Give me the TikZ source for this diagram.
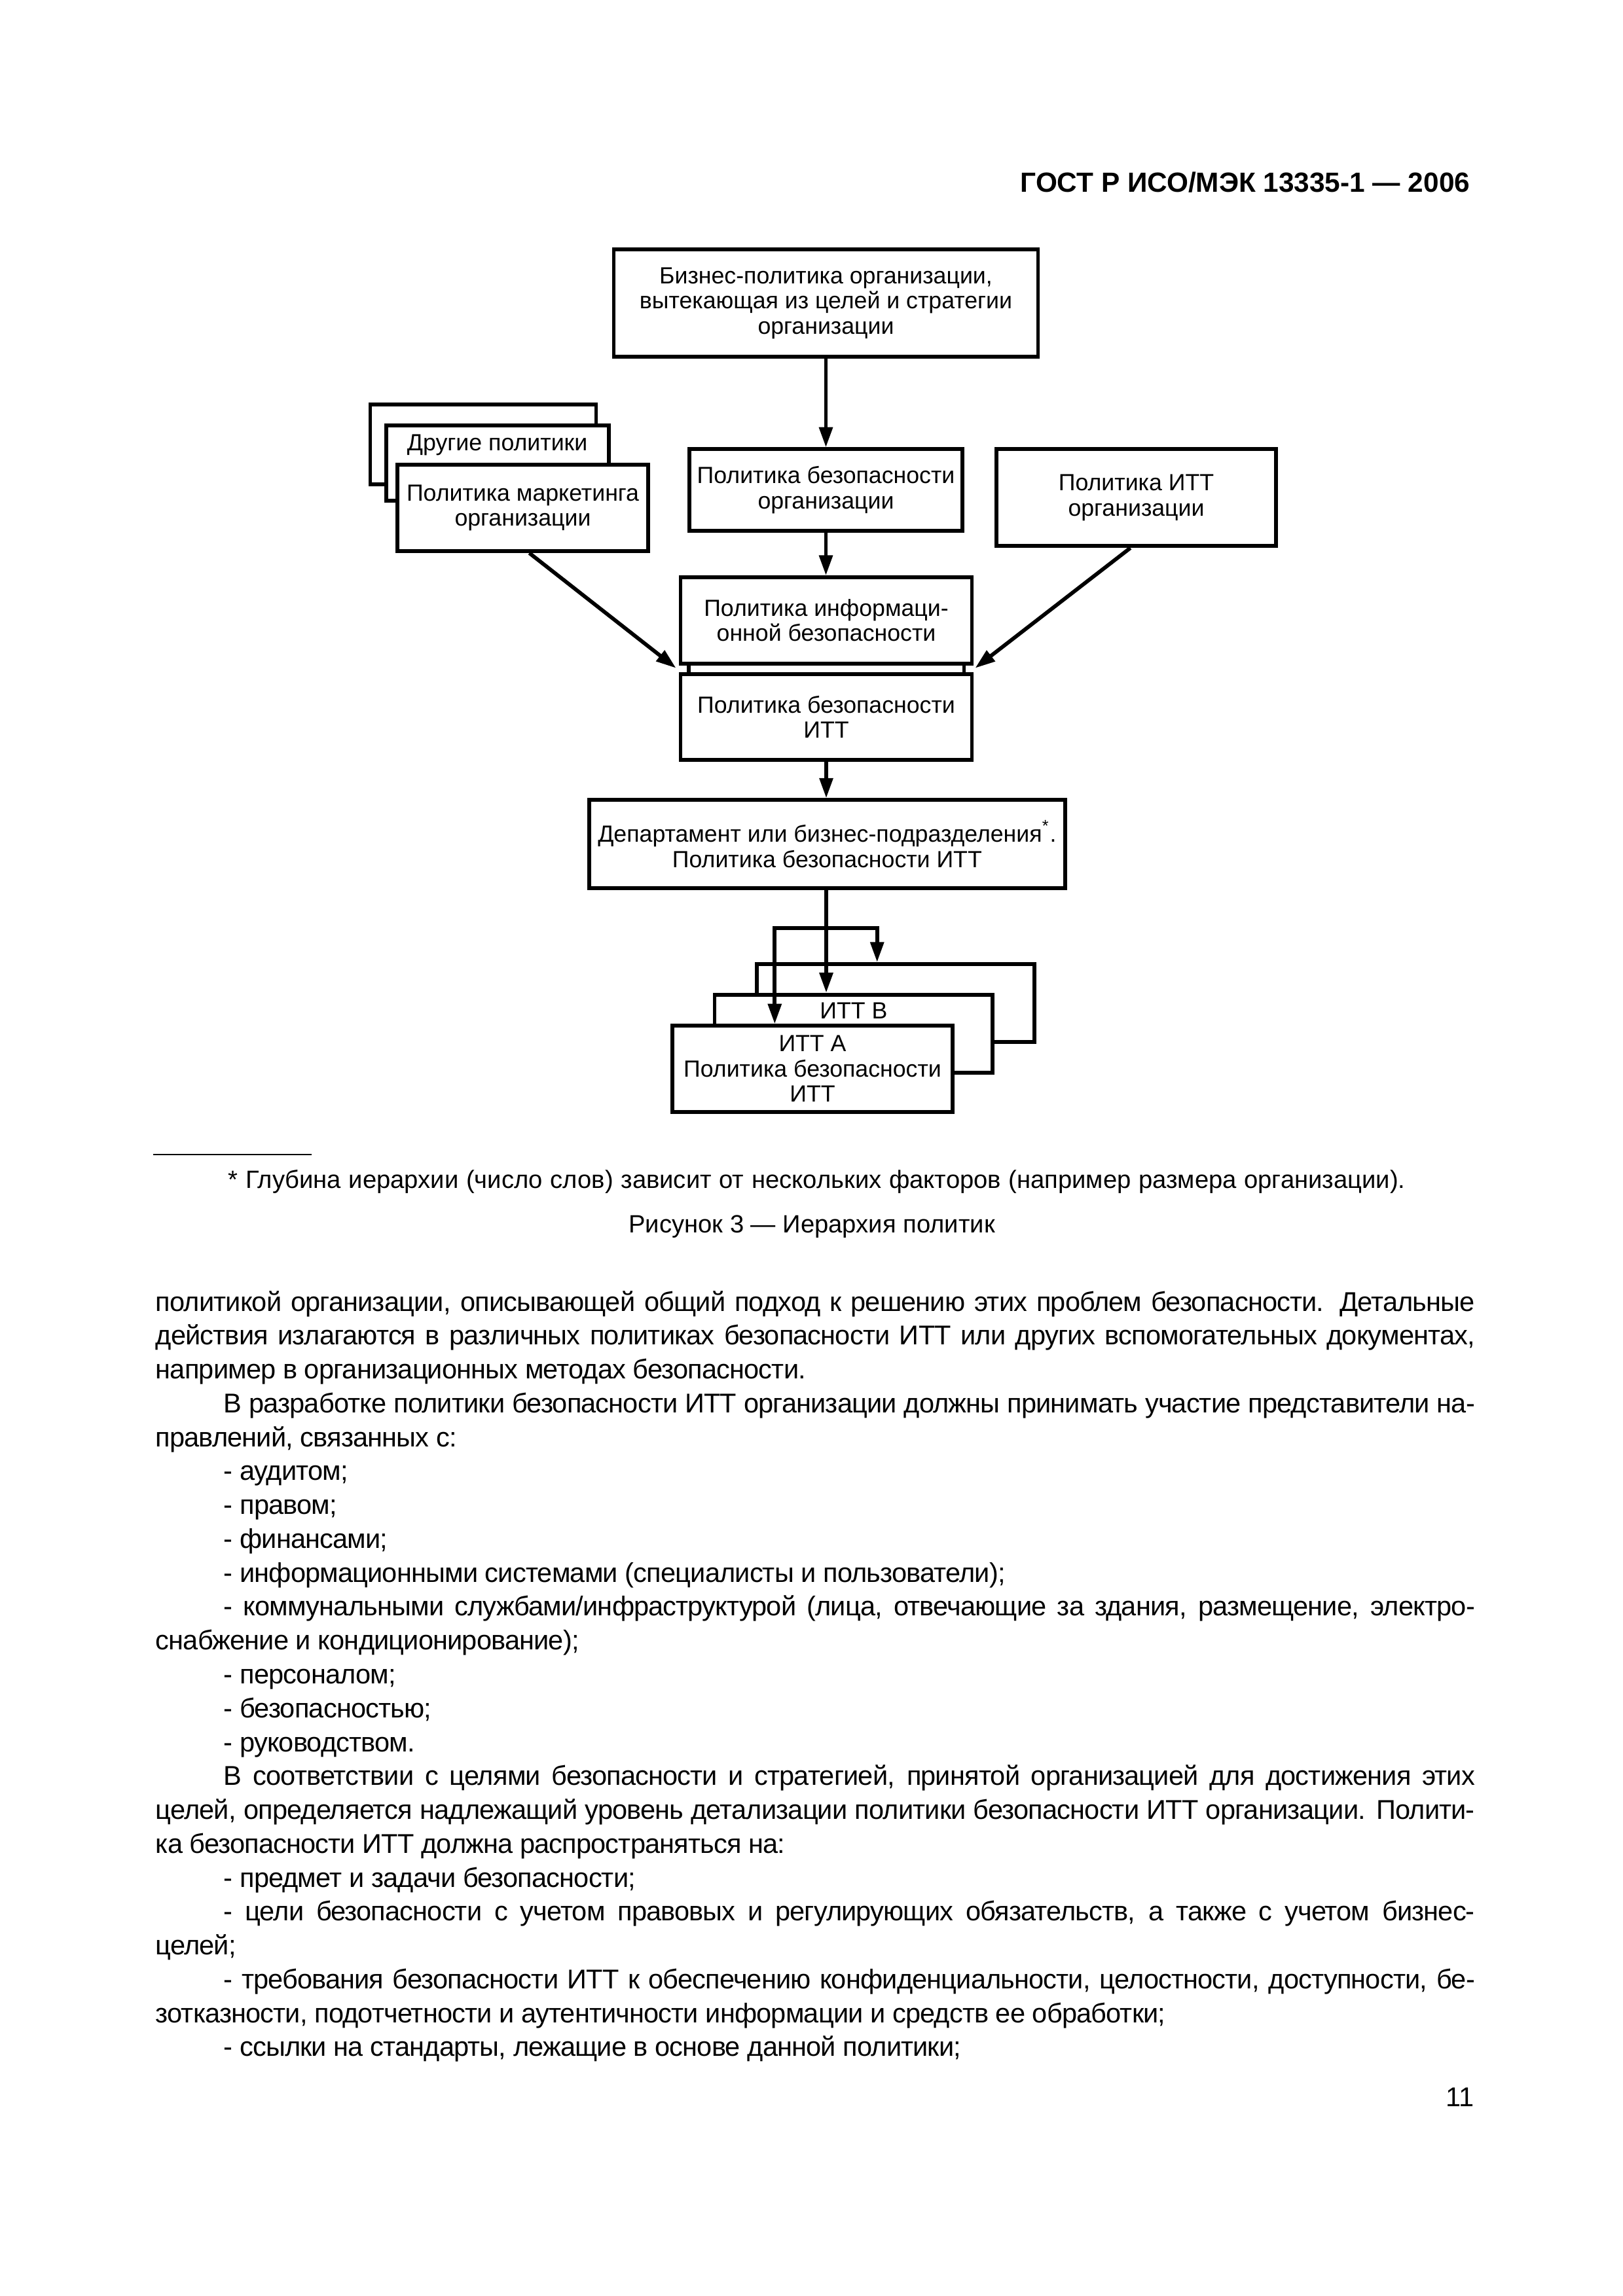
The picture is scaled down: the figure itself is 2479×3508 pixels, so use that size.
\documentclass[tikz,border=0pt]{standalone}
\usepackage{fontspec}
\setmainfont{Liberation Sans}
\newfontfamily\bodyfam[LetterSpace=-2.0]{Liberation Sans}
\usetikzlibrary{arrows.meta,calc}
\def\u{0.0846667mm}
\newcommand\diagfont{\fontsize{8.6}{9.3}\selectfont}
\newcommand\bodyfont{\bodyfam\fontsize{10}{12}\selectfont}
\newcommand\notefont{\fontsize{9.2}{11}\selectfont}
\begin{document}
\begin{tikzpicture}[x=\u, y=-\u,
  box/.style={draw, line width=1.4pt, fill=white, inner sep=0pt, align=center, font=\diagfont},
  lbl/.style={inner sep=0pt, anchor=base, font=\diagfont},
  arr/.style={line width=1.4pt, -{Triangle[length=2.6mm,width=1.7mm]}},
  link/.style={line width=1.4pt},
  body/.style={inner sep=0pt, anchor=base west, font=\bodyfont},
  note/.style={inner sep=0pt, font=\notefont}]
\useasboundingbox (0,0) rectangle (2479,3508);
\fill[white] (0,0) rectangle (2479,3508);

% header
\node[inner sep=0pt, anchor=base east, font=\fontsize{10.2}{12}\selectfont\bfseries] (hdr) at (2246,293) {ГОСТ Р ИСО/МЭК 13335-1 — 2006};

% diagram boxes
\node[box, minimum width=648*\u, minimum height=164*\u] (biz) at (1261.5,463.3) {Бизнес-политика организации,\\вытекающая из целей и стратегии\\организации};

\node[box, minimum width=345*\u, minimum height=122.3*\u] (othback) at (738,679.2) {};
\node[box, minimum width=340*\u, minimum height=115*\u] (othmid) at (759.6,707.8) {};
\node[lbl] (othtxt) at (759.6,688.3) {Другие политики};
\node[box, minimum width=383.5*\u, minimum height=132.3*\u] (mkt) at (798.5,775.9) {Политика маркетинга\\организации};

\node[box, minimum width=417*\u, minimum height=124.7*\u] (secorg) at (1261.5,748.7) {Политика безопасности\\организации};
\node[box, minimum width=427*\u, minimum height=148*\u] (ittorg) at (1735.5,760.3) {Политика ИТТ\\организации};

\node[box, minimum width=445*\u, minimum height=131.7*\u] (infosec) at (1262,947.9) {Политика информаци-\\онной безопасности};
\node[box, minimum width=445*\u, minimum height=131.3*\u] (ittsec) at (1262,1095.4) {Политика безопасности\\ИТТ};

\node[box, minimum width=726.8*\u, minimum height=134.7*\u] (dept) at (1263.4,1289.7) {Департамент или бизнес-подразделения\textsuperscript{*}.\\Политика безопасности ИТТ};

\node[box, minimum width=424.7*\u, minimum height=119*\u] (ittback) at (1368,1532.5) {};
\node[box, minimum width=424.7*\u, minimum height=119*\u] (ittb) at (1303.9,1579.2) {};
\node[lbl] (ittbtxt) at (1303.9,1556.7) {ИТТ В};
\node[box, minimum width=427.3*\u, minimum height=131.4*\u] (itta) at (1241,1633) {ИТТ А\\Политика безопасности\\ИТТ};

% connectors
\draw[arr] (biz.south -| secorg.north) -- (secorg.north);
\draw[arr] (secorg.south) -- (secorg.south |- infosec.north);
\coordinate (gapL) at ($($(infosec.south west)!0.5!(ittsec.north west)$)+(-4,-1)$);
\coordinate (gapR) at ($($(infosec.south east)!0.5!(ittsec.north east)$)+(2,-1)$);
\draw[arr] ($(mkt.south)+(10,0)$) -- (gapL);
\draw[arr] ($(ittorg.south)+(-9,0)$) -- (gapR);
\draw[link] ($(infosec.south west)+(15,0)$) -- ($(ittsec.north west)+(15,0)$);
\draw[link] ($(infosec.south east)+(-15,0)$) -- ($(ittsec.north east)+(-15,0)$);
\draw[arr] (ittsec.south) -- (ittsec.south |- dept.north);
\draw[arr] (dept.south -| ittsec.south) -- (ittsec.south |- ittb.north);
\coordinate (brL) at (1183.3,1418.3);
\coordinate (brR) at (1339.7,1418.3);
\draw[line width=1.4pt, line join=miter, {Triangle[length=2.6mm,width=1.7mm]}-{Triangle[length=2.6mm,width=1.7mm]}]
  (brR |- ittback.north) -- (brR) -- (brL) -- (brL |- itta.north);

% footnote and caption
\draw[line width=0.65pt] (233.6,1764) -- (476,1764);
\node[note, anchor=base west] (fn) at (348,1815) {\makebox[152.2mm][s]{* Глубина иерархии (число слов) зависит от нескольких факторов (например размера организации).}};
\node[note, anchor=base] (cap) at (1240,1883) {Рисунок 3 — Иерархия политик};

% body text
\node[body] (l1) at (237,2003) {\makebox[170.6mm][s]{политикой организации, описывающей общий подход к решению этих проблем безопасности. Детальные}};
\node[body] (l2) at (237,2054.8) {\makebox[170.6mm][s]{действия излагаются в различных политиках безопасности ИТТ или других вспомогательных документах,}};
\node[body] (l3) at (237,2106.5) {например в организационных методах безопасности.};
\node[body] (l4) at (341,2158.3) {\makebox[161.8mm][s]{В разработке политики безопасности ИТТ организации должны принимать участие представители на-}};
\node[body] (l5) at (237,2210.1) {правлений, связанных с:};
\node[body] (l6) at (341,2261.9) {- аудитом;};
\node[body] (l7) at (341,2313.6) {- правом;};
\node[body] (l8) at (341,2365.4) {- финансами;};
\node[body] (l9) at (341,2417.2) {- информационными системами (специалисты и пользователи);};
\node[body] (l10) at (341,2468.9) {\makebox[161.8mm][s]{- коммунальными службами/инфраструктурой (лица, отвечающие за здания, размещение, электро-}};
\node[body] (l11) at (237,2520.7) {снабжение и кондиционирование);};
\node[body] (l12) at (341,2572.5) {- персоналом;};
\node[body] (l13) at (341,2624.2) {- безопасностью;};
\node[body] (l14) at (341,2676.0) {- руководством.};
\node[body] (l15) at (341,2727.8) {\makebox[161.8mm][s]{В соответствии с целями безопасности и стратегией, принятой организацией для достижения этих}};
\node[body] (l16) at (237,2779.6) {\makebox[170.6mm][s]{целей, определяется надлежащий уровень детализации политики безопасности ИТТ организации. Полити-}};
\node[body] (l17) at (237,2831.3) {ка безопасности ИТТ должна распространяться на:};
\node[body] (l18) at (341,2883.1) {- предмет и задачи безопасности;};
\node[body] (l19) at (341,2934.9) {\makebox[161.8mm][s]{- цели безопасности с учетом правовых и регулирующих обязательств, а также с учетом бизнес-}};
\node[body] (l20) at (237,2986.6) {целей;};
\node[body] (l21) at (341,3038.4) {\makebox[161.8mm][s]{- требования безопасности ИТТ к обеспечению конфиденциальности, целостности, доступности, бе-}};
\node[body] (l22) at (237,3090.2) {зотказности, подотчетности и аутентичности информации и средств ее обработки;};
\node[body] (l23) at (341,3141.9) {- ссылки на стандарты, лежащие в основе данной политики;};

\node[inner sep=0pt, anchor=base east, font=\bodyfont] (pg) at (2252,3218) {11};
\end{tikzpicture}
\end{document}
